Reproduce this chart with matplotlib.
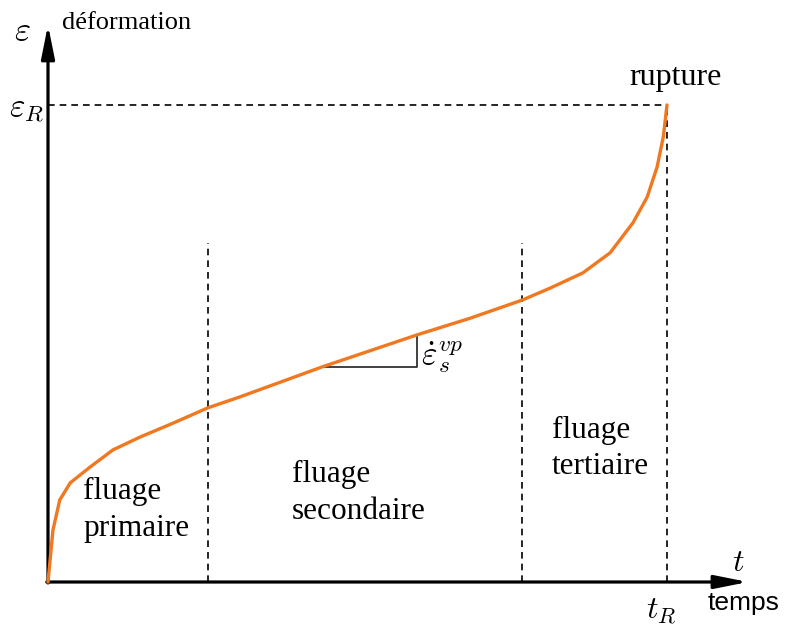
import numpy as np
import matplotlib
matplotlib.use("Agg")
import matplotlib.pyplot as plt

plt.rcParams['mathtext.fontset'] = 'cm'

# --- Creep curve (normalised: t / t_R, eps / eps_R) ---
t_curve = [0.0, 0.008, 0.019, 0.036, 0.068, 0.105, 0.149, 0.202, 0.258, 0.310,
           0.443, 0.596, 0.682, 0.766, 0.811, 0.864, 0.908, 0.945, 0.968,
           0.984, 0.994, 1.0]
eps_curve = [0.0, 0.109, 0.172, 0.208, 0.241, 0.277, 0.304, 0.333, 0.365, 0.388,
             0.451, 0.518, 0.553, 0.591, 0.616, 0.648, 0.690, 0.753, 0.807,
             0.870, 0.933, 1.0]

# stage boundaries and secondary slope triangle
t_stages = [0.258, 0.766]
stage_top = 0.711
slope_t = [0.443, 0.596]
slope_eps = [0.451, 0.518]

stage_labels = ["fluage\nprimaire", "fluage\nsecondaire", "fluage\ntertiaire"]
stage_pos = [(0.057, 0.151), (0.394, 0.186), (0.814, 0.280)]

ORANGE = "#f07820"

fig = plt.figure(figsize=(7.85, 6.29), dpi=100)
ax = fig.add_axes([0, 0, 1, 1])
ax.set_xlim(-48 / 619, 737 / 619)
ax.set_ylim(-47 / 477, 582 / 477)
ax.axis('off')

# axes with arrows
arrow = dict(arrowstyle='-|>,head_length=1.0,head_width=0.2', lw=2.3,
             color='black', shrinkA=0, shrinkB=0, mutation_scale=20)
ax.annotate('', xy=(0, 1.168), xytext=(0, -0.002), arrowprops=arrow)
ax.annotate('', xy=(1.131, 0), xytext=(-0.002, 0), arrowprops=arrow)

# guide lines
dash = dict(color='black', lw=1.2, ls=(0, (4, 3)))
ax.plot([0, 1], [1, 1], **dash)
ax.plot([1, 1], [0, 1], **dash)
for ts in t_stages:
    ax.plot([ts, ts], [0, stage_top], **dash)

# creep curve
ax.plot(t_curve, eps_curve, color=ORANGE, lw=2.4, solid_capstyle='round',
        solid_joinstyle='round', zorder=3)

# slope triangle
ax.plot([slope_t[0], slope_t[1], slope_t[1]],
        [slope_eps[0], slope_eps[0], slope_eps[1]], color='#333333', lw=1.3)
ax.text(slope_t[1] + 0.006, slope_eps[0] + 0.02, r'$\dot{\varepsilon}_s^{vp}$',
        fontsize=24, va='center', ha='left')

# labels
serif = 'Liberation Serif'
ax.text(-0.042, 1.157, r'$\varepsilon$', fontsize=25, ha='center', va='center')
ax.text(0.022, 1.172, 'déformation', family=serif, fontsize=19,
        ha='left', va='center')
ax.text(-0.006, 0.995, r'$\varepsilon_R$', fontsize=24, ha='right', va='center')
ax.text(1.013, 1.058, 'rupture', family=serif, fontsize=23,
        ha='center', va='center')
ax.text(1.115, 0.04, r'$t$', fontsize=23, ha='center', va='center')
ax.text(0.99, -0.06, r'$t_R$', fontsize=23, ha='center', va='center')
ax.text(1.066, -0.044, 'temps', family='Liberation Sans', fontsize=19,
        ha='left', va='center')

for label, (tx, ey) in zip(stage_labels, stage_pos):
    ax.text(tx, ey, label, family=serif, fontsize=22.5, ha='left', va='center',
            linespacing=1.35)

fig.savefig('out.png', dpi=100)
